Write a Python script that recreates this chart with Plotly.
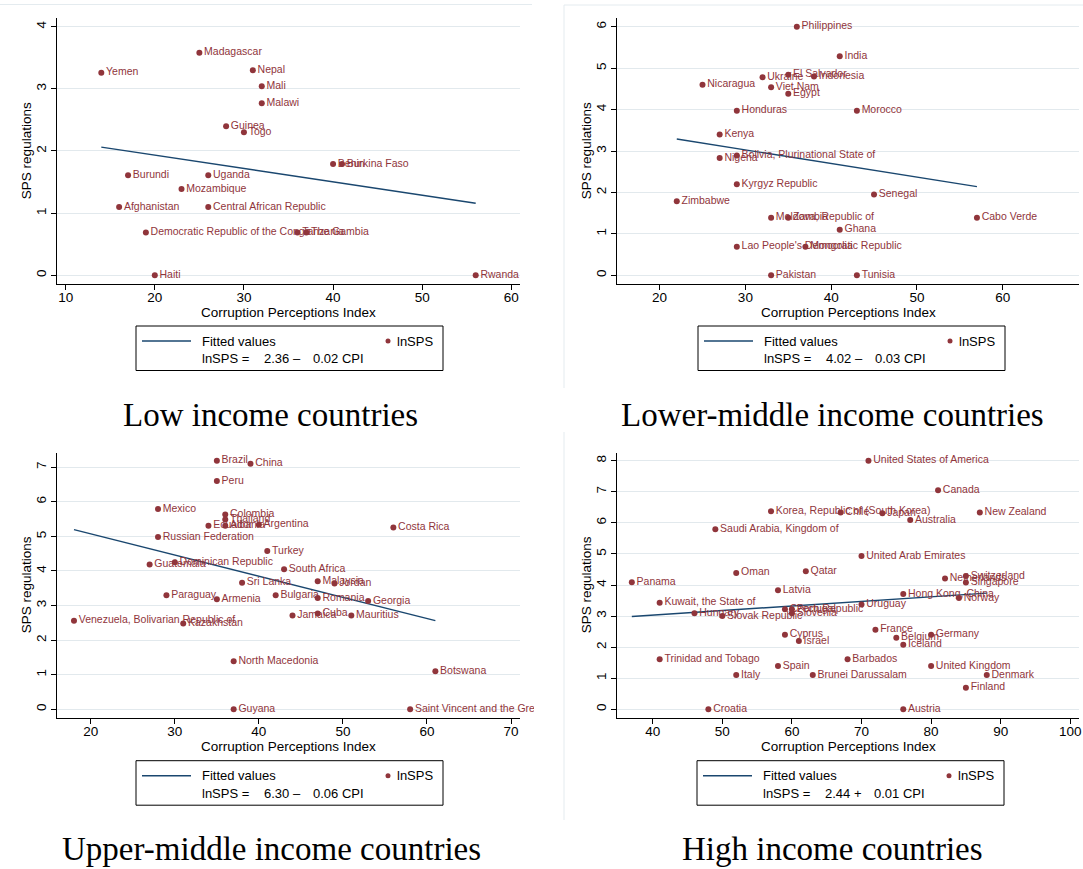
import numpy as np
import plotly.graph_objects as go

# ---------------- DATA ----------------
low_countries = ["Madagascar", "Yemen", "Nepal", "Mali", "Malawi", "Guinea", "Togo", "Benin",
                 "Burkina Faso", "Burundi", "Uganda", "Mozambique", "Afghanistan",
                 "Central African Republic", "Democratic Republic of the Congo", "Tanzania",
                 "The Gambia", "Haiti", "Rwanda"]
low_cpi = [25, 14, 31, 32, 32, 28, 30, 40, 41, 17, 26, 23, 16, 26, 19, 36, 37, 20, 56]
low_sps = [3.58, 3.26, 3.30, 3.04, 2.77, 2.40, 2.30, 1.79, 1.79, 1.61, 1.61, 1.39, 1.10, 1.10,
           0.69, 0.69, 0.69, 0.00, 0.00]

lm_countries = ["Philippines", "India", "El Salvador", "Indonesia", "Ukraine", "Nicaragua",
                "Viet Nam", "Egypt", "Honduras", "Morocco", "Kenya",
                "Bolivia, Plurinational State of", "Nigeria", "Kyrgyz Republic", "Senegal",
                "Zimbabwe", "Moldova, Republic of", "Zambia", "Cabo Verde", "Ghana",
                "Lao People's Democratic Republic", "Mongolia", "Pakistan", "Tunisia"]
lm_cpi = [36, 41, 35, 38, 32, 25, 33, 35, 29, 43, 27, 29, 27, 29, 45, 22, 33, 35, 57, 41, 29, 37, 33, 43]
lm_sps = [6.00, 5.29, 4.84, 4.80, 4.78, 4.60, 4.54, 4.38, 3.97, 3.97, 3.40, 2.89, 2.83, 2.20,
          1.95, 1.79, 1.39, 1.39, 1.39, 1.10, 0.69, 0.69, 0.00, 0.00]

um_countries = ["Brazil", "China", "Peru", "Mexico", "Colombia", "Thailand", "Ecuador", "Albania",
                "Argentina", "Costa Rica", "Russian Federation", "Turkey", "Dominican Republic",
                "Guatemala", "South Africa", "Sri Lanka", "Malaysia", "Jordan", "Paraguay",
                "Bulgaria", "Armenia", "Romania", "Georgia", "Cuba", "Jamaica", "Mauritius",
                "Venezuela, Bolivarian Republic of", "Kazakhstan", "North Macedonia", "Botswana",
                "Guyana", "Saint Vincent and the Grenadines"]
um_cpi = [35, 39, 35, 28, 36, 36, 34, 36, 40, 56, 28, 41, 30, 27, 43, 38, 47, 49, 29, 42, 35, 47,
          53, 47, 44, 51, 18, 31, 37, 61, 37, 58]
um_sps = [7.19, 7.10, 6.60, 5.79, 5.63, 5.49, 5.31, 5.31, 5.34, 5.26, 4.98, 4.58, 4.25, 4.19,
          4.05, 3.66, 3.70, 3.64, 3.30, 3.30, 3.18, 3.22, 3.13, 2.77, 2.71, 2.71, 2.56, 2.48,
          1.39, 1.10, 0.00, 0.00]

hi_countries = ["United States of America", "Canada", "Korea, Republic of (South Korea)", "Chile",
                "Japan", "New Zealand", "Australia", "Saudi Arabia, Kingdom of",
                "United Arab Emirates", "Oman", "Qatar", "Panama", "Netherlands", "Switzerland",
                "Singapore", "Latvia", "Hong Kong, China", "Norway", "Kuwait, the State of",
                "Uruguay", "Czech Republic", "Portugal", "Slovenia", "Hungary", "Slovak Republic",
                "France", "Cyprus", "Germany", "Belgium", "Israel", "Iceland",
                "Trinidad and Tobago", "Barbados", "Spain", "United Kingdom", "Italy",
                "Brunei Darussalam", "Denmark", "Finland", "Croatia", "Austria"]
hi_cpi = [71, 81, 57, 67, 73, 87, 77, 49, 70, 52, 62, 37, 82, 85, 85, 58, 76, 84, 41, 70, 59, 60,
          60, 46, 50, 72, 59, 80, 75, 61, 76, 41, 68, 58, 80, 52, 63, 88, 85, 48, 76]
hi_sps = [8.00, 7.05, 6.37, 6.33, 6.31, 6.33, 6.09, 5.79, 4.93, 4.39, 4.44, 4.09, 4.21, 4.29,
          4.08, 3.83, 3.71, 3.58, 3.43, 3.37, 3.22, 3.22, 3.09, 3.09, 3.00, 2.56, 2.40, 2.40,
          2.30, 2.20, 2.08, 1.61, 1.61, 1.39, 1.39, 1.10, 1.10, 1.10, 0.69, 0.00, 0.00]

panel_titles = ["Low income countries", "Lower-middle income countries",
                "Upper-middle income countries", "High income countries"]
fit_intercepts = ["2.36", "4.02", "6.30", "2.44"]
fit_signs = ["\u2013", "\u2013", "\u2013", "+"]
fit_slopes = ["0.02", "0.03", "0.06", "0.01"]
x_ticks = [[10, 20, 30, 40, 50, 60], [20, 30, 40, 50, 60], [20, 30, 40, 50, 60, 70],
           [40, 50, 60, 70, 80, 90, 100]]
y_ticks = [[0, 1, 2, 3, 4], [0, 1, 2, 3, 4, 5, 6], [0, 1, 2, 3, 4, 5, 6, 7],
           [0, 1, 2, 3, 4, 5, 6, 7, 8]]
x_title = "Corruption Perceptions Index"
y_title = "SPS regulations"

# ---------------- STYLE / LAYOUT ----------------
W, H = 1083, 869
NAVY = "#1a476f"
MAROON = "#90353b"
GRID = "#e2e9ed"
FRAME = "#e4ebef"
SANS = "Liberation Sans, Arial, sans-serif"
SERIF = "Liberation Serif, Times New Roman, serif"


def px(x):
    return x / W


def py(y):
    return 1 - y / H


# plot areas in pixels: (left, right, top, bottom)
areas = [(57, 520, 18.3, 284), (617, 1079, 18.3, 284),
         (57, 520, 452.7, 717.7), (617, 1079, 452.7, 717.7)]
x_ranges = [[9.03, 60.97], [15.03, 68.9], [15.98, 71.07], [34.87, 101.25]]
y_ranges = [[-0.14, 4.135], [-0.21, 6.203], [-0.243, 7.42], [-0.27, 8.257]]
legend_boxes = [(136, 326), (698, 326), (136, 760.7), (697, 760.7)]
caption_pos = [(270, 415), (832, 415), (271, 849), (832, 849)]

datasets = [(low_countries, low_cpi, low_sps), (lm_countries, lm_cpi, lm_sps),
            (um_countries, um_cpi, um_sps), (hi_countries, hi_cpi, hi_sps)]

fig = go.Figure()
shapes = []
annotations = []

for i, (names, cpi, sps) in enumerate(datasets):
    ax = "" if i == 0 else str(i + 1)
    xref, yref = "x" + ax, "y" + ax
    cpi_a = np.array(cpi, dtype=float)
    sps_a = np.array(sps, dtype=float)
    slope, intercept = np.polyfit(cpi_a, sps_a, 1)
    xf = np.array([cpi_a.min(), cpi_a.max()])
    fig.add_trace(go.Scatter(x=xf, y=intercept + slope * xf, mode="lines",
                             line=dict(color=NAVY, width=1.4), xaxis=xref, yaxis=yref,
                             showlegend=False, hoverinfo="skip"))
    fig.add_trace(go.Scatter(x=cpi, y=sps, mode="markers+text", text=names,
                             textposition="middle right",
                             textfont=dict(family=SANS, size=10.5, color=MAROON),
                             marker=dict(color=MAROON, size=6),
                             cliponaxis=False, xaxis=xref, yaxis=yref, showlegend=False))

    l, r, t, b = areas[i]
    fig.layout["xaxis" + ax] = dict(
        domain=[px(l), px(r)], range=x_ranges[i], anchor=yref, tickvals=x_ticks[i],
        showline=True, linecolor="black", linewidth=1, ticks="outside", ticklen=5,
        tickcolor="black", showgrid=False, zeroline=False, ticklabelstandoff=-4,
        tickfont=dict(family=SANS, size=13.5, color="black"), automargin=False)
    fig.layout["yaxis" + ax] = dict(
        domain=[py(b), py(t)], range=y_ranges[i], anchor=xref, tickvals=y_ticks[i],
        showline=True, linecolor="black", linewidth=1, ticks="outside", ticklen=5,
        tickcolor="black", showgrid=True, gridcolor=GRID, gridwidth=1, zeroline=False,
        tickangle=-90, tickfont=dict(family=SANS, size=13.5, color="black"),
        automargin=False)

    # axis titles
    annotations.append(dict(x=px((l + r) / 2), y=py(312 if i < 2 else 746), xref="paper",
                            yref="paper", text=x_title, showarrow=False, xanchor="center",
                            yanchor="middle", font=dict(family=SANS, size=13.5, color="black")))
    annotations.append(dict(x=px(l - 31), y=py((t + b) / 2), xref="paper", yref="paper",
                            text=y_title, showarrow=False, textangle=-90, xanchor="center",
                            yanchor="middle", font=dict(family=SANS, size=13.5, color="black")))

    # legend box (drawn manually, Stata style)
    bx, by = legend_boxes[i]
    bw, bh = 307, 44.5
    shapes.append(dict(type="rect", xref="paper", yref="paper", x0=px(bx), x1=px(bx + bw),
                       y0=py(by + bh), y1=py(by), line=dict(color="black", width=1),
                       fillcolor="white", layer="above"))
    r1, r2 = by + 15, by + 32.5
    shapes.append(dict(type="line", xref="paper", yref="paper", x0=px(bx + 6), x1=px(bx + 55),
                       y0=py(r1), y1=py(r1), line=dict(color=NAVY, width=1.4), layer="above"))
    shapes.append(dict(type="circle", xref="paper", yref="paper", x0=px(bx + 249.5),
                       x1=px(bx + 254.5), y0=py(r1 + 2.5), y1=py(r1 - 2.5),
                       fillcolor=MAROON, line=dict(color=MAROON, width=0), layer="above"))
    lf = dict(family=SANS, size=13, color="black")
    annotations += [
        dict(x=px(bx + 64), y=py(r1), text="Fitted values", xanchor="left", yanchor="middle",
             xref="paper", yref="paper", showarrow=False, font=lf),
        dict(x=px(bx + 259), y=py(r1), text="lnSPS", xanchor="left", yanchor="middle",
             xref="paper", yref="paper", showarrow=False, font=lf),
        dict(x=px(bx + 64), y=py(r2), text="lnSPS =", xanchor="left", yanchor="middle",
             xref="paper", yref="paper", showarrow=False, font=lf),
        dict(x=px(bx + 126), y=py(r2), text=fit_intercepts[i] + " " + fit_signs[i],
             xanchor="left", yanchor="middle", xref="paper", yref="paper", showarrow=False,
             font=lf),
        dict(x=px(bx + 175), y=py(r2), text=fit_slopes[i] + " CPI", xanchor="left",
             yanchor="middle", xref="paper", yref="paper", showarrow=False, font=lf),
    ]
    cx, cy = caption_pos[i]
    annotations.append(dict(x=px(cx), y=py(cy), xref="paper", yref="paper",
                            text=panel_titles[i], showarrow=False, xanchor="center",
                            yanchor="middle", font=dict(family=SERIF, size=33, color="black")))

# clip of overflowing marker label at the edge of the lower-left graph region
shapes.append(dict(type="rect", xref="paper", yref="paper", x0=px(534), x1=px(592),
                   y0=py(718), y1=py(700), fillcolor="white", line=dict(width=0),
                   layer="above"))
# faint graph-region borders
for (x0, y0, x1, y1) in [(0, 4.5, 532, 4.5), (564, 5, 1083, 5), (564, 5, 564, 388),
                         (564, 432, 564, 820)]:
    shapes.append(dict(type="line", xref="paper", yref="paper", x0=px(x0), x1=px(x1),
                       y0=py(y0), y1=py(y1), line=dict(color=FRAME, width=1), layer="above"))

fig.update_layout(width=W, height=H, autosize=False, margin=dict(l=0, r=0, t=0, b=0),
                  paper_bgcolor="white", plot_bgcolor="white", showlegend=False,
                  shapes=shapes, annotations=annotations)

fig.write_html("out.html", config={"displayModeBar": False},
               post_script="document.body.style.margin='0px';document.body.style.padding='0px';")
